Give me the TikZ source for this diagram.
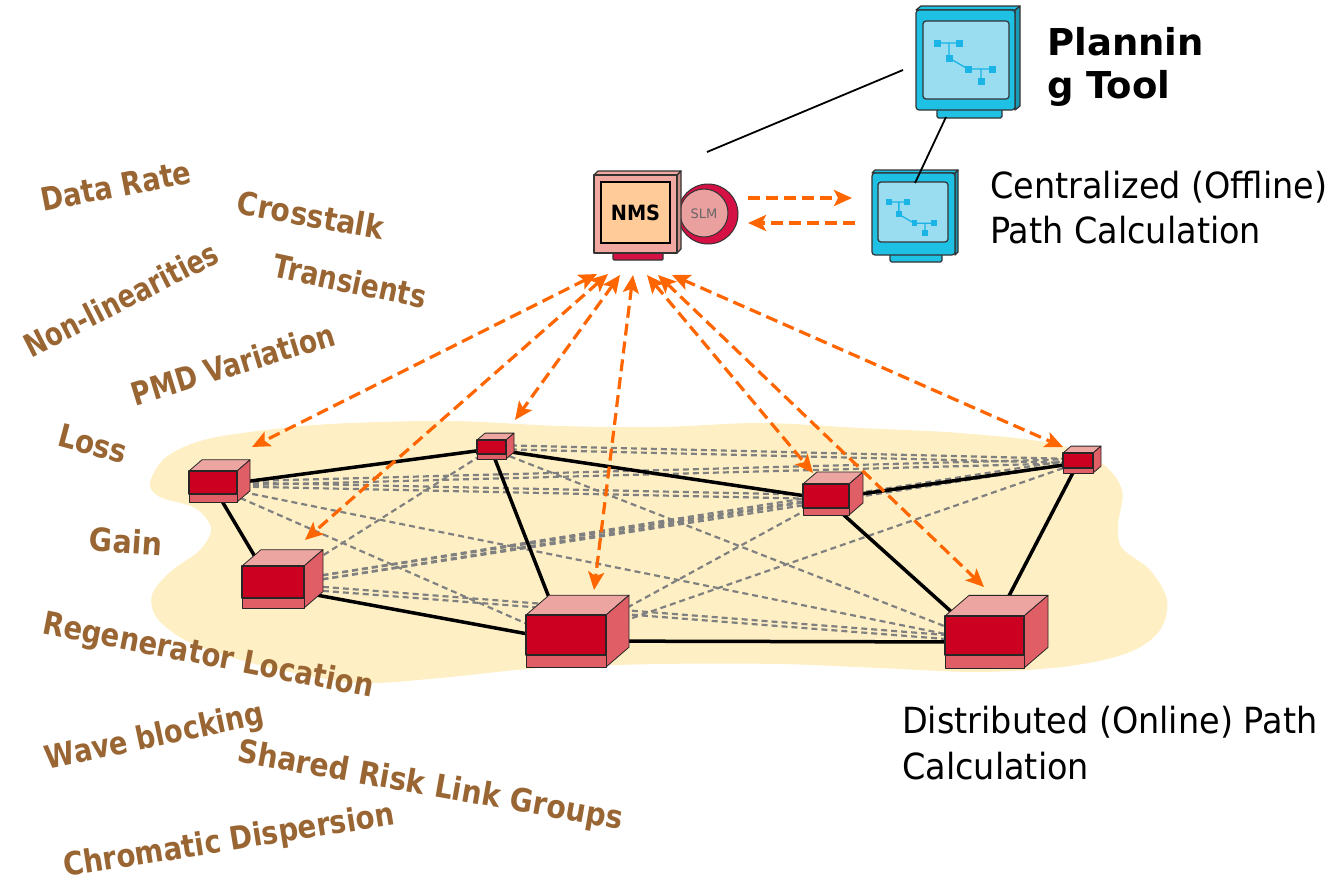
\documentclass[tikz,border=0pt]{standalone}
\usepackage{fontspec}
\usepackage{graphicx}
\setmainfont{DejaVu Sans}
\usetikzlibrary{arrows.meta}

\definecolor{cream}{RGB}{254,240,196}
\definecolor{boxred}{RGB}{204,0,32}
\definecolor{boxside}{RGB}{224,95,103}
\definecolor{boxtop}{RGB}{237,165,161}
\definecolor{linkorange}{RGB}{255,102,0}
\definecolor{meshgray}{RGB}{128,128,128}
\definecolor{labelbrown}{RGB}{153,102,51}
\definecolor{nmsframe}{RGB}{240,168,160}
\definecolor{nmsscreen}{RGB}{255,204,153}
\definecolor{crimson}{RGB}{212,16,69}
\definecolor{slmfill}{RGB}{235,160,160}
\definecolor{cyanframe}{RGB}{30,192,228}
\definecolor{cyanscreen}{RGB}{154,220,240}
\definecolor{cyanicon}{RGB}{26,180,230}

\tikzset{
  boxedge/.style={draw=black!85, line width=0.8pt, line join=round},
  monedge/.style={draw=black!80, line width=1.2pt, line join=round},
  mesh/.style={draw=meshgray, line width=2.2pt, dash pattern=on 6pt off 4pt},
  fiber/.style={draw=black, line width=3.5pt},
  ctrl/.style={draw=linkorange, line width=3.2pt, dash pattern=on 12pt off 6pt,
    {Stealth[length=18pt,width=16pt,inset=4pt]}-{Stealth[length=18pt,width=16pt,inset=4pt]}},
  ctrlone/.style={draw=linkorange, line width=3.2pt, dash pattern=on 12pt off 6pt,
    -{Stealth[length=18pt,width=16pt,inset=4pt]}},
  impair/.style={text=labelbrown, font=\bfseries\fontsize{32}{34}\selectfont, inner sep=0pt},
  caption/.style={anchor=base west, inner sep=0pt, font=\fontsize{36}{40}\selectfont},
  title/.style={anchor=base west, inner sep=0pt, font=\bfseries\fontsize{37}{40}\selectfont},
}

% narrow a label horizontally
\newcommand\narrow[2]{\scalebox{#1}[1]{#2}}

% 3D network element: left x, top y of front, width, front height, strip height, depth
\newcommand\netbox[6]{%
  \pgfmathsetmacro\bxr{#1+#3}%
  \pgfmathsetmacro\bdy{0.86*#6}%
  \pgfmathsetmacro\bym{#2+#4}%
  \pgfmathsetmacro\byb{#2+#4+#5}%
  \filldraw[boxedge, fill=boxtop] (#1,#2) -- ++(#6,-\bdy) -- ++(#3,0) -- (\bxr,#2) -- cycle;
  \filldraw[boxedge, fill=boxside] (\bxr,#2) -- ++(#6,-\bdy) -- ++(0,#4+#5) -- (\bxr,\byb) -- cycle;
  \filldraw[boxedge, fill=boxside] (#1,\bym) rectangle (\bxr,\byb);
  \filldraw[boxedge, fill=boxred, line width=1.4pt] (#1,#2) rectangle (\bxr,\bym);
}

% small path-tree icon on a monitor screen
\newcommand\treeicon[3]{%
  \begin{scope}[shift={(#1,#2)}, scale=#3]
    \draw[cyanicon, line width=1.3pt] (0,0) -- (22,0) (12,0) -- (12,15) -- (31,26) -- (55,26) (44,26) -- (44,38);
    \foreach \px/\py in {0/0,22/0,12/15,31/26,55/26,44/38}
      \fill[cyanicon] (\px,\py) ++(-3.5,-3.5) rectangle ++(7,7);
  \end{scope}}

\begin{document}
\begin{tikzpicture}[x=1pt,y=-1pt]
\useasboundingbox (0,0) rectangle (1332,884);
\fill[white] (0,0) rectangle (1332,884);

% domain background
\fill[cream] plot[smooth cycle, tension=0.55] coordinates {
  (150,483) (165,458) (200,441) (250,432) (330,424) (450,421) (560,426) (660,427)
  (760,423) (860,428) (960,433) (1050,443) (1100,462) (1122,490) (1118,525) (1122,548)
  (1150,570) (1167,600) (1160,630) (1130,652) (1070,666) (980,672) (880,668) (780,664)
  (660,664) (540,668) (440,678) (360,683) (290,672) (230,657) (185,640) (157,618)
  (152,595) (170,572) (200,550) (211,528) (195,508) (160,497)};

% network elements (front face centres)
\coordinate (n1) at (213,486);
\coordinate (n2) at (273,587);
\coordinate (n3) at (491,449);
\coordinate (n4) at (566,641);
\coordinate (n5) at (826,499);
\coordinate (n6) at (1078,463);
\coordinate (n7) at (985,642);

% logical mesh
\foreach \a/\b in {n1/n2,n1/n3,n1/n4,n1/n5,n1/n6,n1/n7,n2/n3,n2/n4,n2/n5,n2/n6,n2/n7,
                   n3/n4,n3/n5,n3/n6,n3/n7,n4/n5,n4/n6,n4/n7,n5/n6,n5/n7,n6/n7}
  \draw[mesh] (\a) -- (\b);
\foreach \a/\b in {n1/n5,n1/n6,n2/n5,n2/n6,n2/n7,n3/n6}
  \draw[mesh, transform canvas={yshift=4pt}] (\a) -- (\b);

% physical fibre links
\foreach \a/\b in {n1/n3,n1/n2,n2/n4,n3/n4,n3/n5,n4/n7,n5/n6,n5/n7,n6/n7}
  \draw[fiber] (\a) -- (\b);

% network elements
\netbox{189}{471}{48}{23}{8}{13}
\netbox{242}{566}{62}{32}{10}{19}
\netbox{477}{440}{29}{14}{5}{8}
\netbox{526}{615}{80}{40}{12}{23}
\netbox{803}{484}{46}{24}{7}{14}
\netbox{1063}{453}{30}{15}{5}{8}
\netbox{945}{616}{79}{39}{13}{24}

% planning tool workstation
\filldraw[monedge, fill=cyanframe, rounded corners=1.5pt] (937,106) rectangle (1002,118);
\filldraw[monedge, fill=cyanframe!80!black] (1015,10) -- (1020,6) -- (1020,106) -- (1015,110) -- cycle;
\filldraw[monedge, fill=cyanframe] (916,10) -- (921,6) -- (1020,6) -- (1015,10) -- cycle;
\filldraw[monedge, fill=cyanframe, rounded corners=3pt] (916,10) rectangle (1015,110);
\filldraw[monedge, fill=cyanscreen, rounded corners=3pt] (923,21) rectangle (1009,99);
\treeicon{937}{43}{1}
\coordinate (planbase) at (946,117);
\coordinate (planside) at (903,70);

% centralized path computation workstation
\filldraw[monedge, fill=cyanframe, rounded corners=1.5pt] (890,252) rectangle (942,262);
\filldraw[monedge, fill=cyanframe!80!black] (955,173) -- (958,170) -- (958,252) -- (955,255) -- cycle;
\filldraw[monedge, fill=cyanframe] (872,173) -- (875,170) -- (958,170) -- (955,173) -- cycle;
\filldraw[monedge, fill=cyanframe, rounded corners=3pt] (872,173) rectangle (955,255);
\filldraw[monedge, fill=cyanscreen, rounded corners=3pt] (878,182) rectangle (948,242);
\treeicon{889}{202}{0.82}
\coordinate (centtop) at (915,183);

\draw[black, line width=1.8pt] (planbase) -- (centtop);

% NMS with SLM
\filldraw[draw=black!80, line width=1pt, fill=crimson] (708,214) circle (30);
\filldraw[draw=black!80, line width=1pt, fill=slmfill] (704,213) circle (24);
\node[text=black!60, font=\fontsize{13}{15}\selectfont, inner sep=0pt] (slm) at (704,214) {SLM};
\filldraw[monedge, fill=crimson, rounded corners=1pt] (613,250) rectangle (663,260);
\filldraw[monedge, fill=nmsframe!85!black] (677,175) -- (681,171) -- (681,249) -- (677,253) -- cycle;
\filldraw[monedge, fill=nmsframe] (594,175) -- (598,171) -- (681,171) -- (677,175) -- cycle;
\filldraw[monedge, fill=nmsframe] (594,175) rectangle (677,253);
\filldraw[draw=black, line width=1.5pt, fill=nmsscreen] (601,182) rectangle (670,243);
\node[font=\bfseries\fontsize{21}{23}\selectfont, inner sep=0pt] (nms) at (635.5,213) {\narrow{0.92}{NMS}};
\coordinate (nmstop) at (707,152);

\draw[black, line width=1.8pt] (nmstop) -- (planside);

% NMS <-> offline path computation
\coordinate (h1a) at (748,198); \coordinate (h1b) at (852,198);
\coordinate (h2a) at (855,223); \coordinate (h2b) at (748,223);
\draw[ctrlone] (h1a) -- (h1b);
\draw[ctrlone] (h2a) -- (h2b);

% NMS <-> network element control channels
\coordinate (m1) at (597,274); \coordinate (t1) at (252,447);
\coordinate (m2) at (608,274); \coordinate (t2) at (305,540);
\coordinate (m3) at (620,275); \coordinate (t3) at (515,420);
\coordinate (m4) at (633,275); \coordinate (t4) at (594,590);
\coordinate (m5) at (647,275); \coordinate (t5) at (813,473);
\coordinate (m6) at (658,275); \coordinate (t6) at (984,587);
\coordinate (m7) at (672,275); \coordinate (t7) at (1063,447);
\foreach \i in {1,...,7}
  \draw[ctrl] (m\i) -- (t\i);

% captions
\node[title] (plan1) at (1047,55) {Plannin};
\node[title] (plan2) at (1047,98) {g Tool};
\node[caption] (cent1) at (990,198) {\narrow{0.93}{Centralized (Offline)}};
\node[caption] (cent2) at (990,243) {\narrow{0.93}{Path Calculation}};
\node[caption] (dist1) at (902,733) {\narrow{0.93}{Distributed (Online) Path}};
\node[caption] (dist2) at (902,779) {\narrow{0.93}{Calculation}};

% impairment and constraint labels
\node[impair, rotate=11] (l1) at (116,186) {\narrow{0.848}{Data Rate}};
\node[impair, rotate=-10] (l2) at (311,215) {\narrow{0.88}{Crosstalk}};
\node[impair, rotate=27] (l3) at (121,299) {\narrow{0.8}{Non-linearities}};
\node[impair, rotate=-12] (l4) at (350,281) {\narrow{0.83}{Transients}};
\node[impair, rotate=17] (l5) at (233,364) {\narrow{0.82}{PMD Variation}};
\node[impair, rotate=-15] (l6) at (93,444) {\narrow{0.87}{Loss}};
\node[impair, rotate=-4] (l7) at (126,541) {\narrow{0.89}{Gain}};
\node[impair, rotate=-11] (l8) at (208,657) {\narrow{0.86}{Regenerator Location}};
\node[impair, rotate=12] (l9) at (155,738) {\narrow{0.85}{Wave blocking}};
\node[impair, rotate=-10] (l10) at (430,787) {\narrow{0.885}{Shared Risk Link Groups}};
\node[impair, rotate=9] (l11) at (229,842) {\narrow{0.865}{Chromatic Dispersion}};
\end{tikzpicture}
\end{document}
